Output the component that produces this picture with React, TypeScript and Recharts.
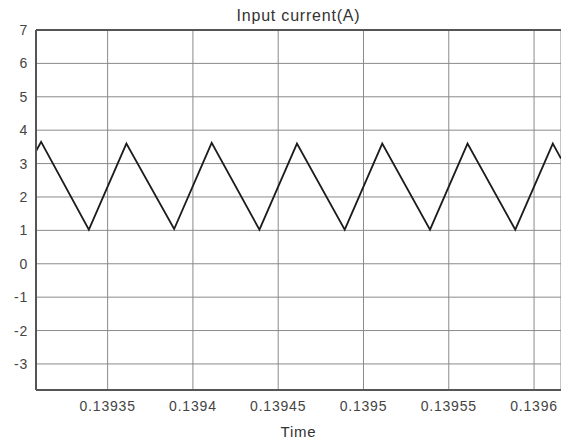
import { LineChart, Line, XAxis, YAxis, CartesianGrid, ReferenceLine, Label } from 'recharts'

// vertices of the triangular input current waveform
const times = [
  0.139308, 0.139311, 0.139339, 0.139361, 0.139389, 0.139411, 0.139439, 0.139461,
  0.139489, 0.139511, 0.139539, 0.139561, 0.139589, 0.139611, 0.1396158,
]
const current = [
  3.37, 3.65, 1.02, 3.6, 1.04, 3.62, 1.02, 3.6,
  1.02, 3.6, 1.02, 3.6, 1.02, 3.6, 3.15,
]

const xTicks = [0.13935, 0.1394, 0.13945, 0.1395, 0.13955, 0.1396]
const yTicks = [-3, -2, -1, 0, 1, 2, 3, 4, 5, 6, 7]

const data = times.map((t, i) => ({ t, i: current[i] }))

const FONT = 'Liberation Sans, Arial, sans-serif'
const tickStyle = { fill: '#444', fontSize: 14, fontFamily: FONT, letterSpacing: 0.8 }

export default function App() {
  // fixed so the 561x443 chart fills the window without creating scroll overflow
  return (
    <div style={{ position: 'fixed', left: 0, top: 0, width: 561, height: 443, fontFamily: FONT, background: '#fff' }}>
      <div
        style={{
          position: 'absolute',
          left: 36,
          width: 525,
          top: 7,
          textAlign: 'center',
          fontSize: 16,
          lineHeight: '18px',
          letterSpacing: 0.8,
          color: '#333',
        }}
      >
        Input current(A)
      </div>
      <LineChart width={561} height={443} data={data} margin={{ top: 30, right: 0, bottom: 0, left: 0 }}>
        <CartesianGrid stroke="#8a8a8a" strokeWidth={1} />
        <XAxis
          dataKey="t"
          type="number"
          domain={[0.139308, 0.1396158]}
          ticks={xTicks}
          tickFormatter={(v) => String(v)}
          allowDataOverflow
          height={53}
          tickLine={false}
          tickMargin={5}
          axisLine={{ stroke: '#555', strokeWidth: 2 }}
          tick={tickStyle}
        >
          <Label
            value="Time"
            position="insideBottom"
            offset={6}
            fill="#333"
            fontSize={15}
            fontFamily={FONT}
            style={{ letterSpacing: 0.8 }}
          />
        </XAxis>
        <YAxis
          type="number"
          domain={[-3.78, 7]}
          ticks={yTicks}
          allowDataOverflow
          width={36}
          tickLine={false}
          axisLine={{ stroke: '#555', strokeWidth: 2 }}
          tick={tickStyle}
        />
        <ReferenceLine y={7} stroke="#555" strokeWidth={2} />
        <Line
          dataKey="i"
          type="linear"
          stroke="#1c1c1c"
          strokeWidth={1.8}
          dot={false}
          isAnimationActive={false}
        />
      </LineChart>
    </div>
  )
}
